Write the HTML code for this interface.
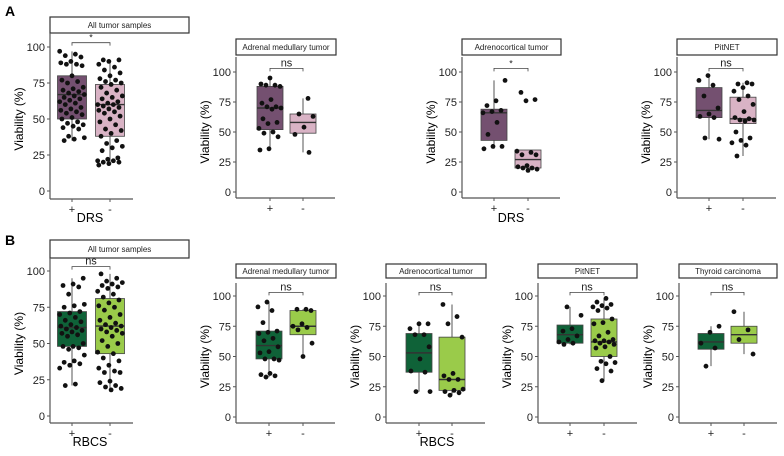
<!DOCTYPE html>
<html><head><meta charset="utf-8">
<style>
html,body{margin:0;padding:0;background:#fff;}
svg{display:block;font-family:"Liberation Sans",Arial,sans-serif;}
</style></head>
<body>
<svg id="fig" width="784" height="456" viewBox="0 0 784 456" xmlns="http://www.w3.org/2000/svg">
<text x="5" y="16" font-size="14" font-weight="bold" fill="#000">A</text>
<text x="5" y="245" font-size="14" font-weight="bold" fill="#000">B</text>
<text x="90" y="222" font-size="12.5" text-anchor="middle" fill="#000">DRS</text>
<text x="511" y="222" font-size="12.5" text-anchor="middle" fill="#000">DRS</text>
<text x="90" y="446" font-size="12.5" text-anchor="middle" fill="#000">RBCS</text>
<text x="437" y="446" font-size="12.5" text-anchor="middle" fill="#000">RBCS</text>
</svg>
<script>
// ---- data ----
const panelTitles = ["All tumor samples","Adrenal medullary tumor","Adrenocortical tumor","PitNET",
  "All tumor samples","Adrenal medullary tumor","Adrenocortical tumor","PitNET","Thyroid carcinoma"];
const groupLabels = ["+","-"];
const sigLabels = ["*","ns","*","ns","ns","ns","ns","ns","ns"];
const yTicks = [0,25,50,75,100];
// box stats [lowWhisker, q1, median, q3, highWhisker] for + and -
const boxPlus = [[35,50,67,80,97],[35,52,70,88,95],[36,43,66,69,93],[44,62,68,87,97],
  [21,48,61,72,95],[33,48,59,71,95],[21,37,53,69,77],[60,61,68,76,91],[42,56,62,69,75]];
const boxMinus = [[18,38,60,74,91],[33,49,58,65,78],[18,20,27,35,35],[30,57,61,79,91],
  [18,43,62,81,98],[50,68,75,88,89],[18,22,31,66,93],[30,50,62,81,98],[52,61,68,75,87]];
const ptsPlus = [
 [97,95,94,93,90,89,88,88,87,80,77,76,75,72,71,70,69,68,67,66,65,64,63,62,61,60,58,57,56,55,54,53,51,50,48,47,46,45,44,43,38,37,36,35],
 [95,90,89,89,88,77,74,71,71,70,69,61,58,57,53,50,49,46,36,35],
 [93,76,72,68,67,66,58,48,38,38,36],
 [97,93,89,80,70,65,63,62,45,44],
 [95,91,90,89,84,77,76,75,72,71,70,68,66,65,63,62,61,60,59,58,57,56,55,50,48,48,47,46,42,38,37,36,35,33,22,21],
 [95,91,88,78,71,70,69,65,63,58,54,53,48,48,47,36,35,34,33],
 [77,77,73,68,68,58,48,38,37,21,21],
 [91,84,73,71,67,64,62,61,60],
 [75,70,61,57,42]];
const ptsMinus = [
 [91,91,90,88,86,84,82,80,78,77,76,75,74,72,70,68,66,65,64,62,61,60,60,59,58,57,56,55,54,52,50,48,46,43,42,40,38,35,33,31,30,28,23,22,21,21,20,20,19,18],
 [78,65,63,54,48,33],
 [83,77,76,34,33,31,31,22,21,20,20,19,18],
 [91,90,90,87,84,80,77,73,67,62,61,60,60,59,50,45,43,41,39,30],
 [98,95,93,92,91,90,89,88,86,84,82,80,78,76,75,73,70,68,66,64,63,62,61,60,59,58,57,55,52,50,48,44,43,40,38,35,33,31,30,30,24,23,21,20,19,18],
 [89,89,88,77,75,74,72,61,50],
 [93,83,77,66,36,34,31,31,23,22,21,20,18],
 [98,95,93,92,91,90,88,81,78,77,70,67,64,63,63,62,61,60,58,57,50,46,45,44,40,38,30],
 [87,72,64,52]];

// ---- layout (pixels) ----
const layout = [
 {ax:50,xe:133,y0:191,y100:47,axY:199,top:33,sy:17,sh:16,sx2:189,xp:72,xm:110,bw:29},
 {ax:236,xe:335,y0:192,y100:72,axY:198,top:57,sy:39,sh:16,sx2:336,xp:270,xm:303,bw:26},
 {ax:462,xe:560,y0:192,y100:72,axY:198,top:57,sy:39,sh:16,sx2:561,xp:494,xm:528,bw:26},
 {ax:677,xe:776,y0:192,y100:72,axY:198,top:57,sy:39,sh:16,sx2:777,xp:709,xm:743,bw:26},
 {ax:50,xe:133,y0:416,y100:271,axY:423,top:258,sy:240,sh:18,sx2:189,xp:72,xm:110,bw:29},
 {ax:236,xe:335,y0:417,y100:296,axY:423,top:283,sy:264,sh:14,sx2:336,xp:269,xm:303,bw:26},
 {ax:386,xe:485,y0:417,y100:296,axY:423,top:283,sy:264,sh:14,sx2:486,xp:419,xm:452,bw:26},
 {ax:538,xe:637,y0:417,y100:296,axY:423,top:283,sy:264,sh:14,sx2:637,xp:570,xm:604,bw:26},
 {ax:679,xe:777,y0:417,y100:296,axY:423,top:283,sy:264,sh:14,sx2:777,xp:711,xm:744,bw:26}];
const fillPlus = ["#745070","#0f6238"], fillMinus = ["#d9b3c5","#9acb4a"];

const NS="http://www.w3.org/2000/svg";
const svg=document.getElementById('fig');
function mk(tag,attrs,parent){const e=document.createElementNS(NS,tag);for(const k in attrs)e.setAttribute(k,attrs[k]);(parent||svg).appendChild(e);return e;}

layout.forEach((L,i)=>{
  const row = i<4?0:1;
  const yS = v => L.y0 + (L.y100-L.y0)*v/100;
  const g = mk('g',{});
  
  
  const st = mk('rect',{x:L.ax,y:L.sy,width:L.sx2-L.ax,height:L.sh,fill:'#fff',stroke:'#333','stroke-width':1.2},g);
  
  
  const stt = mk('text',{x:(L.ax+L.sx2)/2,y:L.sy+L.sh/2+3,'font-size':8,'text-anchor':'middle',fill:'#222'},g);
  stt.textContent = panelTitles[i];
  
  
  const ya = mk('line',{x1:L.ax,y1:L.top,x2:L.ax,y2:L.axY,stroke:'#555','stroke-width':1.2},g);
  
  
  const xa = mk('line',{x1:L.ax,y1:L.axY,x2:L.xe,y2:L.axY,stroke:'#555','stroke-width':1.2},g);
  
  
  yTicks.forEach(t=>{
    const y=yS(t);
    mk('line',{x1:L.ax-3,y1:y,x2:L.ax,y2:y,stroke:'#555'},g);
    const tl=mk('text',{x:L.ax-5,y:y+4,'font-size':11,'text-anchor':'end',fill:'#222'},g);
    tl.textContent=t;
    
    
  });
  const yt=mk('text',{x:0,y:0,'font-size':12,'text-anchor':'middle',fill:'#000',transform:`translate(${L.ax-27},${yS(50)}) rotate(-90)`},g);
  yt.textContent='Viability (%)';
  
  
  [[L.xp,boxPlus[i],ptsPlus[i],fillPlus[row],0],[L.xm,boxMinus[i],ptsMinus[i],fillMinus[row],1]].forEach(([cx,b,pts,fill,gi])=>{
    mk('line',{x1:cx,y1:L.axY,x2:cx,y2:L.axY+3,stroke:'#555'},g);
    const xl=mk('text',{x:cx,y:L.axY+14,'font-size':11,'text-anchor':'middle',fill:'#222'},g);
    xl.textContent=groupLabels[gi];
    
    
    mk('line',{x1:cx,y1:yS(b[0]),x2:cx,y2:yS(b[4]),stroke:'#555','stroke-width':1},g);
    const bx=mk('rect',{x:cx-L.bw/2,y:yS(b[3]),width:L.bw,height:yS(b[1])-yS(b[3]),fill:fill,stroke:'#444','stroke-width':0.8},g);
    
    
    mk('line',{x1:cx-L.bw/2,y1:yS(b[2]),x2:cx+L.bw/2,y2:yS(b[2]),stroke:'#333','stroke-width':1.4},g);
    pts.forEach((v,k)=>{
      const jit = (((k*37+i*11+gi*5)%23)/22-0.5)*L.bw*0.85;
      const p=mk('circle',{cx:cx+jit,cy:yS(v),r:2.4,fill:'#111'},g);
      
      
    });
  });
  const by=yS(103);
  mk('path',{d:`M${L.xp},${by+3}V${by}H${L.xm}V${by+3}`,fill:'none',stroke:'#444','stroke-width':0.8},g);
  const sl=mk('text',{x:(L.xp+L.xm)/2,y:by-2,'font-size':sigLabels[i]=='*'?9:11,'text-anchor':'middle',fill:'#222'},g);
  sl.textContent=sigLabels[i];
  
  
});
</script>
</body></html>
